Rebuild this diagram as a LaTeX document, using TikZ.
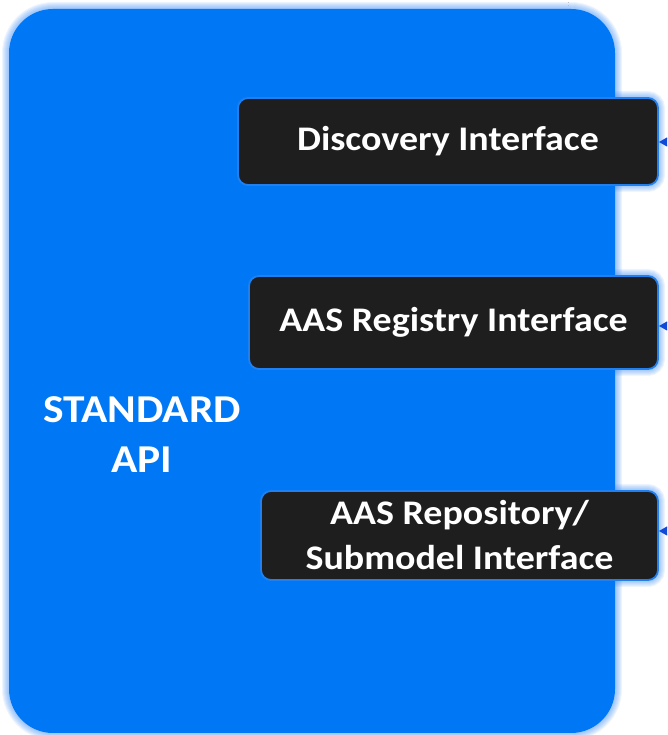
\documentclass[tikz,border=0pt]{standalone}
\usepackage{fontspec}
\setmainfont{Carlito}
\newfontfamily\labelfont[FakeStretch=1.1]{Carlito}
\usetikzlibrary{arrows.meta}
\definecolor{apiblue}{HTML}{0078F5}
\definecolor{glowblue}{HTML}{3C8CF5}
\definecolor{ifacedark}{HTML}{1E1E1E}
\definecolor{ifaceedge}{HTML}{2080F0}
\definecolor{arrowblue}{HTML}{1048D8}
\tikzset{
  x=1pt, y=1pt,
  apibox/.style={rectangle, rounded corners=44pt, fill=apiblue, inner sep=0pt},
  ifacebox/.style={rectangle, rounded corners=10pt, fill=ifacedark, draw=ifaceedge,
    line width=1.8pt, inner sep=0pt, text=white,
    font=\labelfont\bfseries\fontsize{34.5}{45}\selectfont, align=center},
  apilabel/.style={text=white, font=\labelfont\bfseries\fontsize{39.5}{50}\selectfont,
    align=center},
  inlet/.style={draw=arrowblue, line width=1.3pt, -{Triangle[length=11pt,width=12pt]}},
  stub/.style={draw=gray!50, line width=0.8pt, dash pattern=on 1.5pt off 1.5pt},
}
% soft halo: stacked translucent strokes along a rounded rectangle
\newcommand{\halo}[5]{%
  \foreach \w in {2,4,...,14}
    \draw[glowblue, opacity=0.09, line width=\w pt, rounded corners=#5]
      (#1,#2) rectangle (#3,#4);}
\begin{document}
\begin{tikzpicture}
\useasboundingbox (0,0) rectangle (667,735);
\clip (0,0) rectangle (667,735);

% halos behind the main block and the interface boxes
\halo{9}{2}{615}{726}{44pt}
\halo{238}{550}{658}{637}{10pt}
\halo{249}{366}{658}{459}{10pt}
\halo{261}{155}{658}{244}{10pt}

% main block
\node[apibox, minimum width=606pt, minimum height=724pt] (api) at (312,364) {};
\node[apilabel] (apitxt) at (142,300) {STANDARD\\API};

% interfaces
\node[ifacebox, minimum width=420pt, minimum height=87pt] (disc) at (448,593.5) {Discovery Interface};
\node[ifacebox, minimum width=409pt, minimum height=93pt] (reg) at (453.5,412.5) {AAS Registry Interface};
\node[ifacebox, minimum width=397pt, minimum height=89pt] (repo) at (459.5,199.5) {AAS Repository/\\Submodel Interface};

% incoming connectors from the right
\coordinate (inD) at (700,593);
\coordinate (inR) at (700,409);
\coordinate (inS) at (700,204);
\draw[inlet] (inD) -- (disc.east |- inD);
\draw[inlet] (inR) -- (reg.east |- inR);
\draw[inlet] (inS) -- (repo.east |- inS);

% short dotted stub at the top edge
\coordinate (stubA) at (568,745);
\coordinate (stubB) at (568,727);
\draw[stub] (stubA) -- (stubB);
\end{tikzpicture}
\end{document}
